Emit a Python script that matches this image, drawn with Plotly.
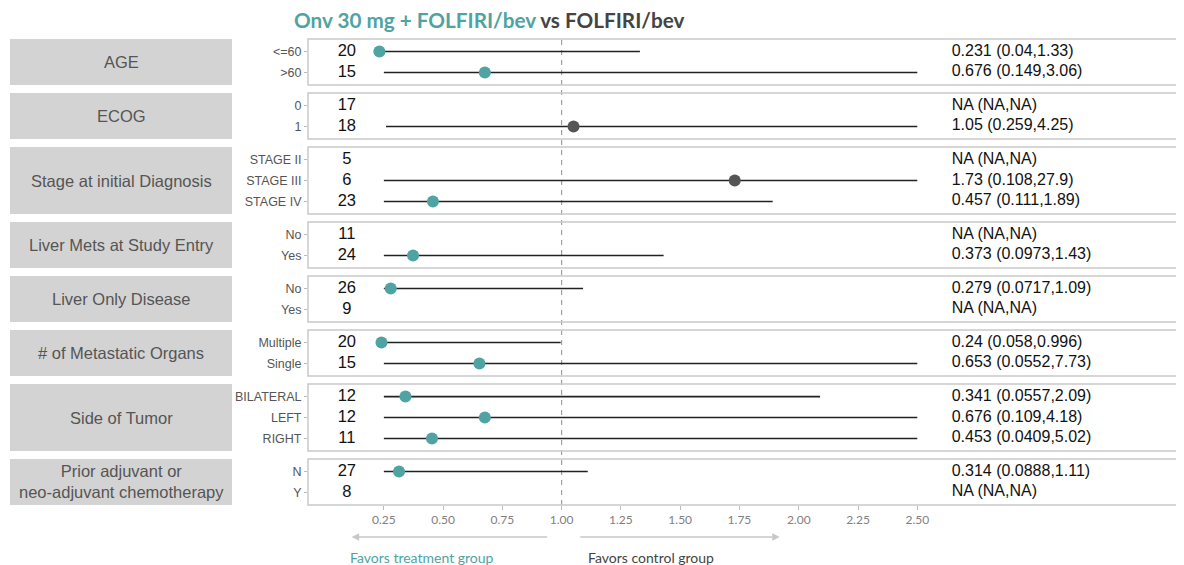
import plotly.graph_objects as go
from plotly.subplots import make_subplots

# ---------------- data ----------------
groups = ["AGE", "ECOG", "Stage at initial Diagnosis", "Liver Mets at Study Entry",
          "Liver Only Disease", "# of Metastatic Organs", "Side of Tumor",
          "Prior adjuvant or<br>neo-adjuvant chemotherapy"]
levels = [["<=60", ">60"], ["0", "1"], ["STAGE II", "STAGE III", "STAGE IV"],
          ["No", "Yes"], ["No", "Yes"], ["Multiple", "Single"],
          ["BILATERAL", "LEFT", "RIGHT"], ["N", "Y"]]
n_pat = [[20, 15], [17, 18], [5, 6, 23], [11, 24], [26, 9], [20, 15], [12, 12, 11], [27, 8]]
hr = [[0.231, 0.676], [None, 1.05], [None, 1.73, 0.457], [None, 0.373],
      [0.279, None], [0.24, 0.653], [0.341, 0.676, 0.453], [0.314, None]]
ci_lo = [[0.04, 0.149], [None, 0.259], [None, 0.108, 0.111], [None, 0.0973],
         [0.0717, None], [0.058, 0.0552], [0.0557, 0.109, 0.0409], [0.0888, None]]
ci_hi = [[1.33, 3.06], [None, 4.25], [None, 27.9, 1.89], [None, 1.43],
         [1.09, None], [0.996, 7.73], [2.09, 4.18, 5.02], [1.11, None]]
x_ticks = [0.25, 0.50, 0.75, 1.00, 1.25, 1.50, 1.75, 2.00, 2.25, 2.50]
x_lim = (0.25, 2.50)          # CI lines are clipped to this window
n_col_x = 0.094               # column position for N
label_col_x = 2.645           # column position for HR (CI) text

TEAL = "#4FA3A2"
DARK = "#555555"
ARIAL = "Liberation Sans, Arial, sans-serif"
GEO = "Lato, sans-serif"

# ---------------- layout geometry ----------------
OFF = 8   # page body margin
W, H = 1184 - OFF, 565 - OFF
ML, MR, MT, MB = 308 - OFF, 0, 39 - OFF, 60
PW, PH = W - ML - MR, H - MT - MB
heights = [len(l) + 0.2 for l in levels]
fig = make_subplots(rows=len(groups), cols=1, shared_xaxes=True,
                    row_heights=heights, vertical_spacing=8 / PH)

def px_x(p):
    return (p - OFF - ML) / PW

def px_y(p):
    return (H - MB - (p - OFF)) / PH

shapes = []
annotations = []
for g, grp in enumerate(groups):
    r = g + 1
    labs = levels[g]
    k = len(labs)
    for i in range(k):
        h = hr[g][i]
        if h is not None:
            x0 = max(ci_lo[g][i], x_lim[0])
            x1 = min(ci_hi[g][i], x_lim[1])
            fig.add_trace(go.Scatter(x=[x0, x1], y=[i, i], mode="lines",
                                     line=dict(color="#222222", width=1.6),
                                     hoverinfo="skip", showlegend=False), row=r, col=1)
            fig.add_trace(go.Scatter(x=[h], y=[i], mode="markers",
                                     marker=dict(size=12, color=TEAL if h < 1 else DARK),
                                     showlegend=False), row=r, col=1)
            txt = f"{h} ({ci_lo[g][i]},{ci_hi[g][i]})"
        else:
            txt = "NA (NA,NA)"
        fig.add_trace(go.Scatter(x=[n_col_x], y=[i], mode="text", text=[str(n_pat[g][i])],
                                 textposition="middle center",
                                 textfont=dict(family=ARIAL, size=16.5, color="#111111"),
                                 hoverinfo="skip", showlegend=False), row=r, col=1)
        fig.add_trace(go.Scatter(x=[label_col_x], y=[i], mode="text", text=[txt],
                                 textposition="middle right",
                                 textfont=dict(family=ARIAL, size=16, color="#111111"),
                                 hoverinfo="skip", showlegend=False), row=r, col=1)

    yname = "y" if r == 1 else f"y{r}"
    fig.update_yaxes(row=r, col=1, tickvals=list(range(k)), ticktext=labs,
                     range=[k - 1 + 0.6, -0.6], showgrid=False, zeroline=False,
                     ticks="outside", ticklen=3, tickcolor="#BBBBBB",
                     tickfont=dict(family=ARIAL, size=12.5, color="#555555"),
                     showline=False, fixedrange=True)
    # panel border
    shapes.append(dict(type="rect", xref="paper", x0=0, x1=1.05,
                       yref=f"{yname} domain", y0=0, y1=1,
                       line=dict(color="#C9C9C9", width=1.5), layer="above"))
    # strip box
    shapes.append(dict(type="rect", xref="paper", x0=px_x(10), x1=px_x(232),
                       yref=f"{yname} domain", y0=0, y1=1,
                       fillcolor="#D3D3D3", line=dict(width=0)))
    annotations.append(dict(xref="paper", x=px_x(121), xanchor="center",
                            yref=f"{yname} domain", y=0.5, yanchor="middle",
                            text=grp, showarrow=False,
                            font=dict(family=ARIAL, size=16.5, color="#555555")))

last = len(groups)
xref_last = f"x{last}"
fig.update_xaxes(range=[-0.07, 3.625], showgrid=False, zeroline=False, showline=False,
                 tickvals=x_ticks, ticktext=[f"{v:.2f}" for v in x_ticks],
                 tickfont=dict(family=GEO, size=12, color="#808080"))
fig.update_xaxes(ticks="outside", ticklen=4, tickcolor="#BBBBBB", row=last, col=1)

# reference line at HR = 1
shapes.append(dict(type="line", xref=xref_last, x0=1, x1=1, yref="paper", y0=0, y1=1,
                   line=dict(color="#8C8C8C", width=1, dash="5px,5px"), layer="below"))

# favours arrows and texts
annotations.append(dict(xref=xref_last, x=0.114, yref="paper", y=px_y(537),
                        axref=xref_last, ax=0.945, ayref="pixel", ay=0, text="",
                        showarrow=True, arrowhead=2, arrowsize=1, arrowwidth=1.5,
                        arrowcolor="#C8C8C8"))
annotations.append(dict(xref=xref_last, x=1.92, yref="paper", y=px_y(537),
                        axref=xref_last, ax=1.072, ayref="pixel", ay=0, text="",
                        showarrow=True, arrowhead=2, arrowsize=1, arrowwidth=1.5,
                        arrowcolor="#C8C8C8"))
annotations.append(dict(xref=xref_last, x=0.41, yref="paper", y=px_y(557),
                        yanchor="middle", text="Favors treatment group", showarrow=False,
                        font=dict(family=GEO, size=14, color=TEAL)))
annotations.append(dict(xref=xref_last, x=1.377, yref="paper", y=px_y(557),
                        yanchor="middle", text="Favors control group", showarrow=False,
                        font=dict(family=GEO, size=14, color="#444444")))

# title
annotations.append(dict(xref="paper", x=px_x(292), xanchor="left", yref="paper",
                        y=px_y(20), yanchor="middle", showarrow=False,
                        text=f"<b><span style='color:{TEAL}'>Onv 30 mg + FOLFIRI/bev</span>"
                             f" <span style='color:#444444'>vs FOLFIRI/bev</span></b>",
                        font=dict(family=GEO, size=20.7)))

fig.update_layout(width=W, height=H, margin=dict(l=ML, r=MR, t=MT, b=MB),
                  plot_bgcolor="white", paper_bgcolor="white",
                  shapes=shapes, annotations=annotations, showlegend=False)

fig.write_html("out.html")
